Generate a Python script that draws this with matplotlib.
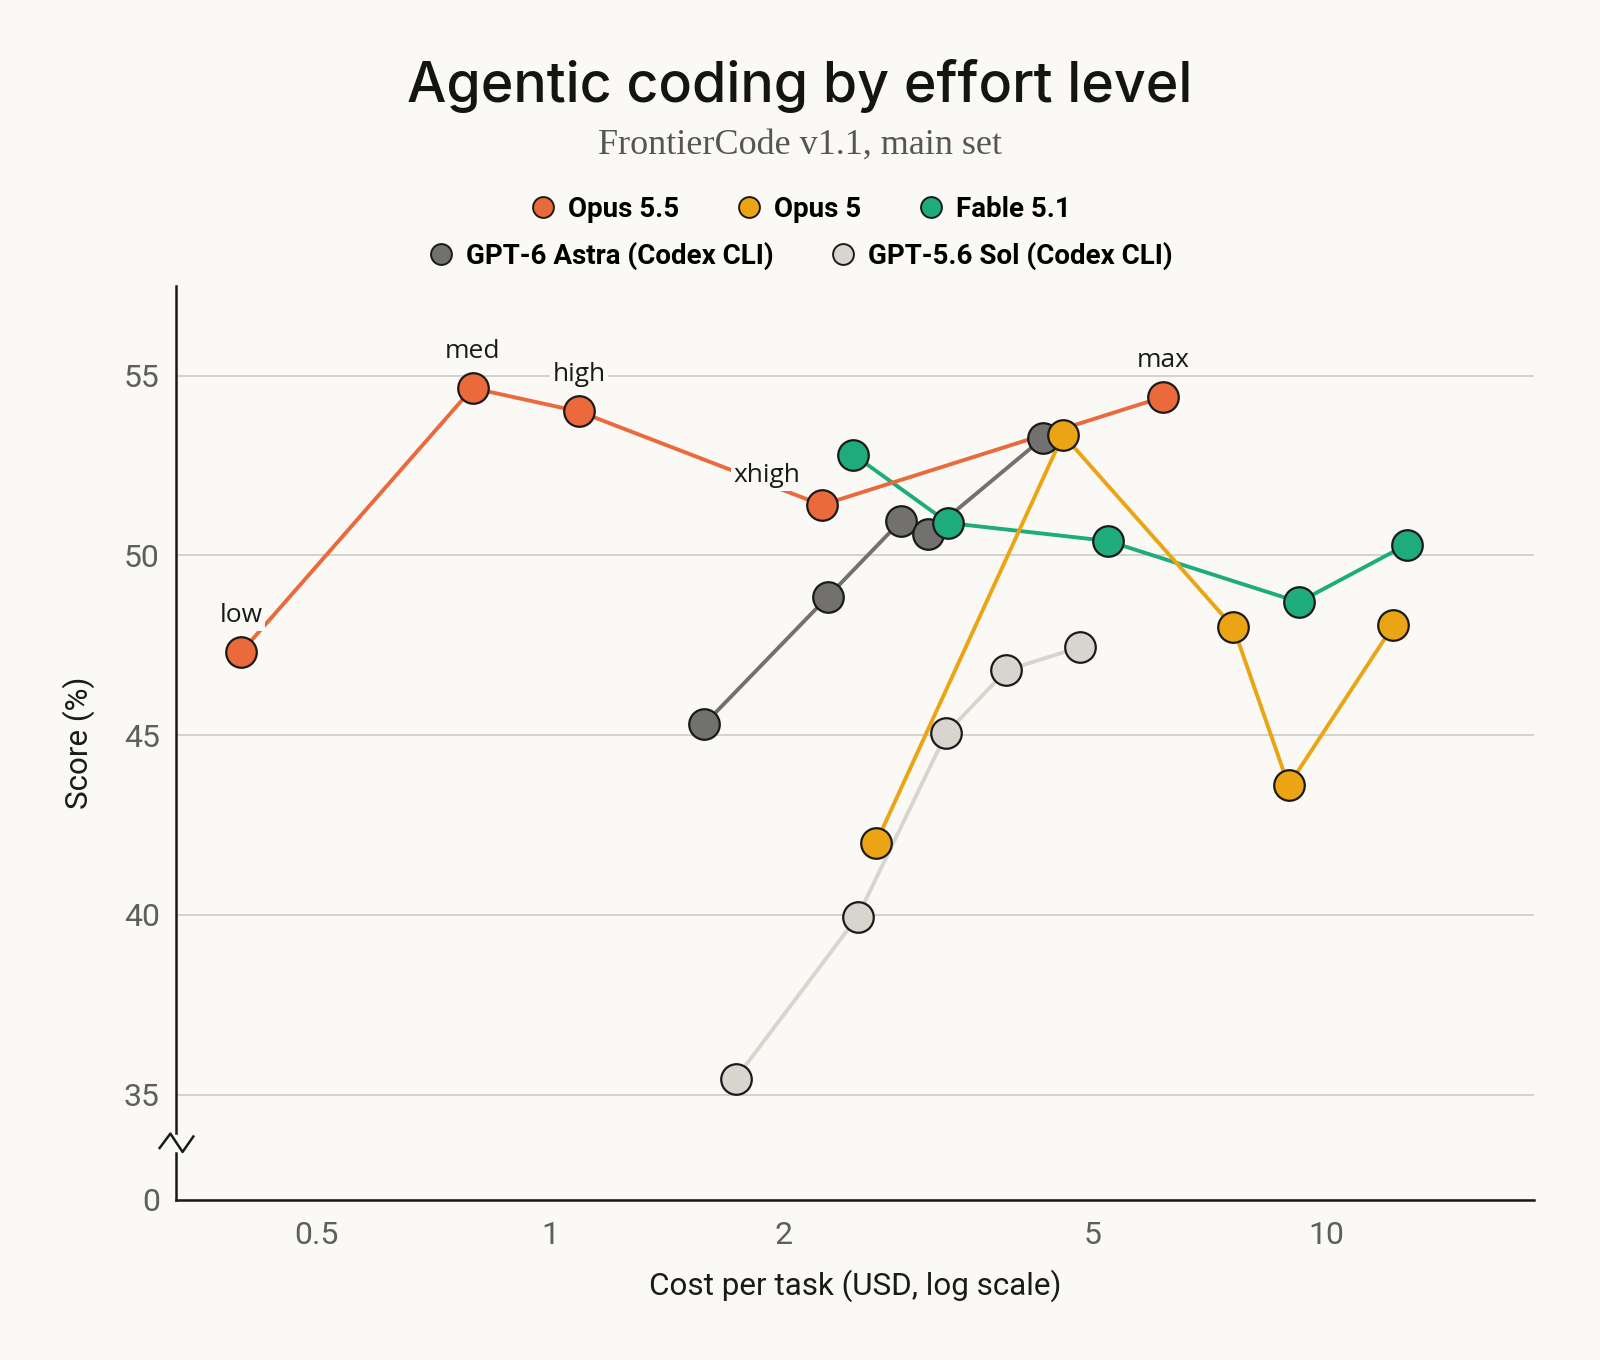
import numpy as np
import matplotlib
matplotlib.use('Agg')
import matplotlib.pyplot as plt
from matplotlib.lines import Line2D

bg = '#FAF9F5'

# effort levels, annotated on the Opus 5.5 curve
effort_labels = ['low', 'med', 'high', 'xhigh', 'max']

# cost per task (USD) and score (%) for each model
opus55_cost = [0.40, 0.795, 1.09, 2.24, 6.16]
opus55_score = [47.3, 54.65, 54.0, 51.4, 54.4]

opus5_cost = [2.63, 4.58, 7.59, 8.94, 12.2]
opus5_score = [42.0, 53.35, 48.0, 43.6, 48.05]

fable_cost = [2.46, 3.26, 5.23, 9.22, 12.7]
fable_score = [52.8, 50.9, 50.4, 48.7, 50.3]

astra_cost = [1.58, 2.28, 2.83, 3.07, 4.31]
astra_score = [45.3, 48.85, 50.95, 50.6, 53.25]

sol_cost = [1.735, 2.49, 3.24, 3.87, 4.82]
sol_score = [35.45, 39.95, 45.05, 46.8, 47.45]

series_names = ['Opus 5.5', 'Opus 5', 'Fable 5.1', 'GPT-6 Astra (Codex CLI)', 'GPT-5.6 Sol (Codex CLI)']
series_colors = ['#EA6A3B', '#EBA514', '#1FAC7D', '#727170', '#D7D5CE']
series_cost = [opus55_cost, opus5_cost, fable_cost, astra_cost, sol_cost]
series_score = [opus55_score, opus5_score, fable_score, astra_score, sol_score]

y_ticks = [35, 40, 45, 50, 55]
x_ticks = [0.5, 1, 2, 5, 10]
x_tick_labels = ['0.5', '1', '2', '5', '10']

y_floor = 32.08   # bottom of the broken axis, shown as "0"
y_break = 33.67

plt.rcParams['font.family'] = ['Roboto', 'DejaVu Sans']

fig = plt.figure(figsize=(16, 13.6), dpi=100, facecolor=bg)
ax = fig.add_axes([0.1103, 0.1178, 0.8482, 0.6722])
ax.set_facecolor(bg)

# draw back to front so Opus 5.5 sits on top
for name, col, xs, ys in reversed(list(zip(series_names, series_colors, series_cost, series_score))):
    ax.plot(xs, ys, '-', color=col, lw=2.8, zorder=2, solid_capstyle='round')
for name, col, xs, ys in reversed(list(zip(series_names, series_colors, series_cost, series_score))):
    ax.plot(xs, ys, 'o', color=col, ms=22, mec='#1A1A1A', mew=1.6, zorder=4)

# effort labels
offsets = [(0, 37), (0, 37), (0, 37), (-55, 29), (0, 37)]
for lab, x, y, off in zip(effort_labels, opus55_cost, opus55_score, offsets):
    ax.annotate(lab, (x, y), xytext=off, textcoords='offset pixels', ha='center', va='center',
                fontsize=19, family=['Open Sans', 'DejaVu Sans'], color='#1A1A1A', zorder=3,
                bbox=dict(boxstyle='square,pad=0.1', fc=bg, ec='none'))

ax.set_xscale('log')
ax.set_xlim(0.3304, 18.49)
ax.set_ylim(y_floor, 57.5)
ax.set_xticks(x_ticks)
ax.set_xticklabels(x_tick_labels)
ax.xaxis.set_minor_locator(matplotlib.ticker.NullLocator())
ax.set_yticks([y_floor] + y_ticks)
ax.set_yticklabels(['0'] + [str(v) for v in y_ticks])
ax.tick_params(axis='both', length=0, labelsize=23, labelcolor='#5E5E5E')
ax.tick_params(axis='y', pad=12)
ax.tick_params(axis='x', pad=15)
ax.yaxis.grid(True, color='#D3D2CD', lw=1.4, zorder=0)
ax.set_axisbelow(True)

for s in ['top', 'right', 'left']:
    ax.spines[s].set_visible(False)
ax.spines['bottom'].set_color('#1A1A1A')
ax.spines['bottom'].set_linewidth(1.8)

# left spine with a break mark
ytr = ax.get_yaxis_transform()
ax.plot([0, 0], [y_floor, 33.38], color='#1A1A1A', lw=1.8, transform=ytr, clip_on=False, zorder=5)
ax.plot([0, 0], [33.95, 57.5], color='#1A1A1A', lw=1.8, transform=ytr, clip_on=False, zorder=5)
ax.plot([-0.0124, -0.0045, 0.0045, 0.0124], [33.52, 33.92, 33.41, 33.84], color='#1A1A1A',
        lw=1.8, transform=ytr, clip_on=False, zorder=5)

ax.set_ylabel('Score (%)', fontsize=22.6, color='#1A1A1A', labelpad=21)
ax.set_xlabel('Cost per task (USD, log scale)', fontsize=22.6, color='#1A1A1A', labelpad=14)

fig.text(0.5, 0.9365, 'Agentic coding by effort level', ha='center', va='center', fontsize=40,
         family=['Inter', 'DejaVu Sans'], fontweight='medium', color='#141413')
fig.text(0.5, 0.893, 'FrontierCode v1.1, main set', ha='center', va='center', fontsize=26,
         family=['Liberation Serif', 'DejaVu Serif'], color='#555555')

handles = [Line2D([], [], ls='none', marker='o', ms=15, mfc=c, mec='#1A1A1A', mew=1.4)
           for c in series_colors]
leg_font = dict(family=['Roboto', 'DejaVu Sans'], weight='bold', size=20)
leg1 = fig.legend(handles[:3], series_names[:3], loc='center', bbox_to_anchor=(0.5, 0.846), ncol=3,
                  frameon=False, prop=leg_font, handletextpad=0.4, columnspacing=2.0, handlelength=1.0)
leg2 = fig.legend(handles[3:], series_names[3:], loc='center', bbox_to_anchor=(0.5, 0.812), ncol=2,
                  frameon=False, prop=leg_font, handletextpad=0.4, columnspacing=2.0, handlelength=1.0)

fig.savefig('out.png', dpi=100, facecolor=bg)
